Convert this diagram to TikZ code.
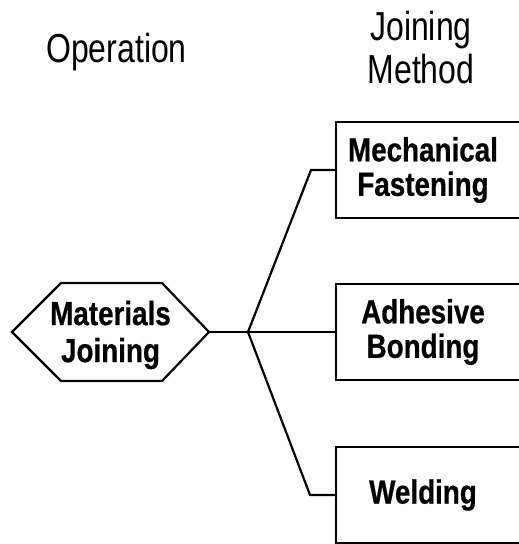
\documentclass[tikz,border=0pt]{standalone}
\usepackage{fontspec}
\newfontfamily\hdfont[FakeStretch=0.79]{Liberation Sans}
\newfontfamily\bxfont[FakeStretch=0.83,BoldFeatures={FakeBold=0.6}]{Liberation Sans}
\begin{document}
\begin{tikzpicture}[x=1pt,y=-1pt,
  edge/.style={line width=2.2pt},
  head/.style={inner sep=0pt,align=center,font=\hdfont\fontsize{40.5}{43.5}\selectfont},
  lbl/.style={inner sep=0pt,align=center,font=\bxfont\bfseries\fontsize{33.5}{34.5}\selectfont},
  hexlbl/.style={lbl,font=\bxfont\bfseries\fontsize{33.5}{37}\selectfont},
  boxnode/.style={lbl,minimum width=174pt,minimum height=96pt}]
\useasboundingbox (0,0) rectangle (519,544);
\clip (0,0) rectangle (519,544);
% headers
\node[head,anchor=base] (op) at (116.5,62) {Operation};
\node[head] (jm) at (421,47.5) {Joining\\Method};
% hexagon
\coordinate (hc) at (110.5,332);
\node[hexlbl] (mj) at (110.5,335) {Materials\\Joining};
\draw[edge] (hc) ++(-98.5,0) coordinate (hl) -- ++(49,-49) -- ++(101,0) -- ++(47,49) coordinate (hr)
  -- ++(-47,49) -- ++(-101,0) -- cycle;
% boxes
\node[boxnode] (mf) at (423,170) {Mechanical\\Fastening};
\node[boxnode] (ab) at (423,332) {Adhesive\\Bonding};
\node[boxnode] (we) at (423,495) {Welding};
\foreach \b in {mf,ab,we}{
  \draw[edge] ([xshift=200pt]\b.north west) -| (\b.south west) -- ++(200,0);
}
% connectors
\coordinate (J) at (248,332);
\coordinate (c1) at (311,170);
\coordinate (c3) at (310,495);
\draw[edge] (hr) -- (J);
\draw[edge] (J) -- (c1) -- (mf.west);
\draw[edge] (J) -- (ab.west);
\draw[edge] (J) -- (c3) -- (we.west);
\end{tikzpicture}
\end{document}
